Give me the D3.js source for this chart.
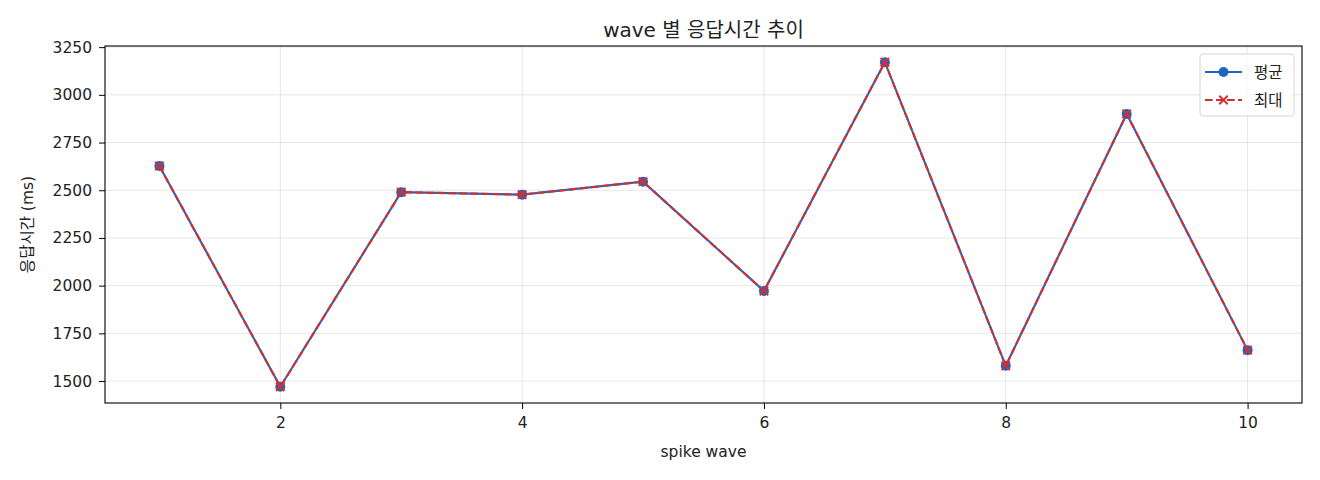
<!DOCTYPE html>
<html><head><meta charset="utf-8">
<script src="https://cdn.jsdelivr.net/npm/d3@7"></script>
<style>
body{margin:0;background:#fff;}
text{font-family:"DejaVu Sans","Noto Sans CJK KR",sans-serif;fill:#222;}
</style></head>
<body><svg id="c" width="1320" height="480"></svg>
<script>
const waves = [1,2,3,4,5,6,7,8,9,10];
const avgMs = [2627,1470,2490,2477,2545,1972,3171,1580,2900,1662];
const maxMs = [2627,1470,2490,2477,2545,1972,3171,1580,2900,1662];
const xTicks = [2,4,6,8,10];
const yTicks = [1500,1750,2000,2250,2500,2750,3000,3250];
const seriesNames = ["평균","최대"];
const titleText = "wave 별 응답시간 추이";
const xLabel = "spike wave";
const yLabel = "응답시간 (ms)";

const svg = d3.select("#c");
const L=105,R=1302,T=46,B=403;
const blue="#1f66c2", red="#d32f2f";
const FONT='"DejaVu Sans","Noto Sans CJK KR",sans-serif';

const allV = avgMs.concat(maxMs);
const ymin=d3.min(allV), ymax=d3.max(allV), yr=ymax-ymin;
const x = d3.scaleLinear().domain([1-0.45,10+0.45]).range([L,R]);
const y = d3.scaleLinear().domain([ymin-0.05*yr, ymax+0.05*yr]).range([B,T]);

// grid
const g = svg.append("g");
g.selectAll(".gx").data(xTicks).enter().append("line")
 .attr("x1",d=>x(d)).attr("x2",d=>x(d)).attr("y1",T).attr("y2",B)
 .attr("stroke","#b0b0b0").attr("stroke-opacity",0.3).attr("stroke-width",1);
g.selectAll(".gy").data(yTicks).enter().append("line")
 .attr("y1",d=>y(d)).attr("y2",d=>y(d)).attr("x1",L).attr("x2",R)
 .attr("stroke","#b0b0b0").attr("stroke-opacity",0.3).attr("stroke-width",1);

// axes
const fmt = d3.format("d");
const xAxis = d3.axisBottom(x).tickValues(xTicks).tickFormat(fmt).tickSize(6).tickPadding(8);
const yAxis = d3.axisLeft(y).tickValues(yTicks).tickFormat(fmt).tickSize(6).tickPadding(7);
const gx = svg.append("g").attr("transform",`translate(0,${B})`).call(xAxis);
const gy = svg.append("g").attr("transform",`translate(${L},0)`).call(yAxis);
[gx,gy].forEach(a=>{
  a.select(".domain").remove();
  a.selectAll("line").attr("stroke","#000");
  a.selectAll("text").attr("font-size","15.5px").attr("fill","#222")
   .style("font-family",FONT);
});

// lines
const data = waves.map((w,i)=>({w,a:avgMs[i],m:maxMs[i]}));
const lineA = d3.line().x(d=>x(d.w)).y(d=>y(d.a));
const lineM = d3.line().x(d=>x(d.w)).y(d=>y(d.m));
svg.append("path").datum(data).attr("d",lineA).attr("fill","none")
 .attr("stroke",blue).attr("stroke-width",2.1);
svg.selectAll(".ma").data(data).enter().append("circle")
 .attr("cx",d=>x(d.w)).attr("cy",d=>y(d.a)).attr("r",5).attr("fill",blue);
svg.append("path").datum(data).attr("d",lineM).attr("fill","none")
 .attr("stroke",red).attr("stroke-width",2.1).attr("stroke-dasharray","7.7,3.3");
const xs=4.2;
data.forEach(d=>{
  const cx=x(d.w), cy=y(d.m);
  svg.append("path").attr("d",`M${cx-xs},${cy-xs}L${cx+xs},${cy+xs}M${cx-xs},${cy+xs}L${cx+xs},${cy-xs}`)
   .attr("stroke",red).attr("stroke-width",2);
});

// frame
svg.append("rect").attr("x",L).attr("y",T).attr("width",R-L).attr("height",B-T)
 .attr("fill","none").attr("stroke","#000").attr("stroke-width",1.1);

// texts
svg.append("text").attr("x",(L+R)/2).attr("y",37).attr("text-anchor","middle")
 .attr("font-size","20px").text(titleText);
svg.append("text").attr("x",(L+R)/2).attr("y",457).attr("text-anchor","middle")
 .attr("font-size","15.5px").text(xLabel);
svg.append("text").attr("transform",`translate(33,${(T+B)/2}) rotate(-90)`)
 .attr("text-anchor","middle").attr("font-size","15.5px").text(yLabel);

// legend
const lg = svg.append("g");
lg.append("rect").attr("x",1200).attr("y",54).attr("width",94).attr("height",62)
 .attr("rx",3).attr("fill","#fff").attr("fill-opacity",0.8).attr("stroke","#d6d6d6");
const ly=[72,100];
lg.append("line").attr("x1",1205).attr("x2",1242).attr("y1",ly[0]).attr("y2",ly[0])
 .attr("stroke",blue).attr("stroke-width",2.1);
lg.append("circle").attr("cx",1223.5).attr("cy",ly[0]).attr("r",5).attr("fill",blue);
lg.append("line").attr("x1",1205).attr("x2",1242).attr("y1",ly[1]).attr("y2",ly[1])
 .attr("stroke",red).attr("stroke-width",2.1).attr("stroke-dasharray","7.7,3.3");
lg.append("path").attr("d",`M${1223.5-xs},${ly[1]-xs}L${1223.5+xs},${ly[1]+xs}M${1223.5-xs},${ly[1]+xs}L${1223.5+xs},${ly[1]-xs}`)
 .attr("stroke",red).attr("stroke-width",2);
seriesNames.forEach((n,i)=>{
  lg.append("text").attr("x",1254).attr("y",ly[i]+5.5).attr("font-size","15.5px").text(n);
});
</script></body></html>
